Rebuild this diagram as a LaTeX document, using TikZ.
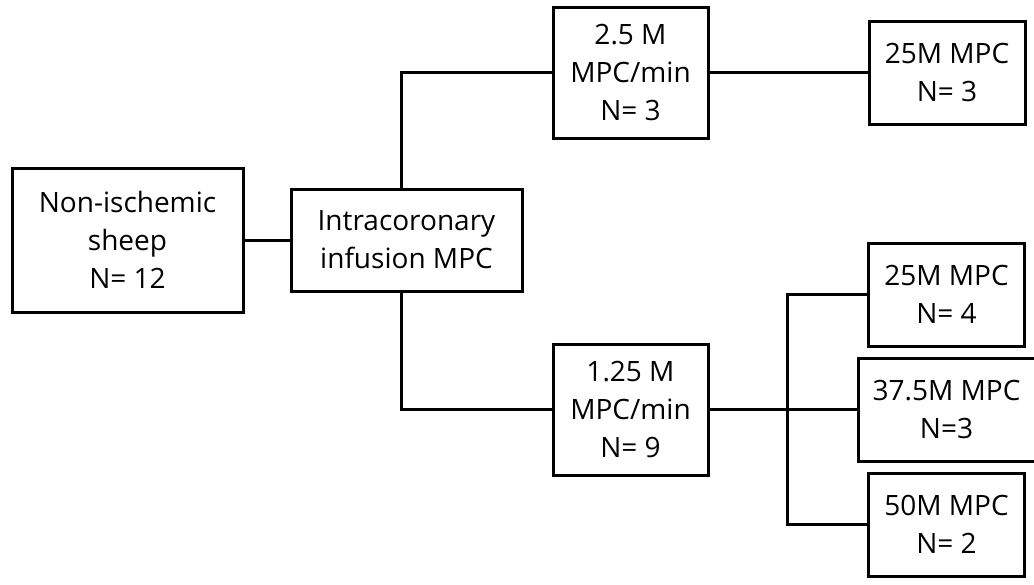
\documentclass[tikz,border=0pt]{standalone}
\usepackage{fontspec}
\setmainfont{Open Sans}
\usepackage{tikz}
\usetikzlibrary{positioning, calc}
\tikzstyle{block} = [rectangle, draw=black, line width=1.5pt, minimum width=115.5pt, align=center, inner sep=2pt]
\tikzstyle{dose} = [block, minimum width=77.5pt, minimum height=65.5pt]
\tikzstyle{group} = [block, minimum width=78pt, minimum height=51.5pt]
\tikzstyle{link} = [line width=1.5pt]

\begin{document}
\begin{tikzpicture}[x=0.5pt, y=-0.5pt, every node/.style={font=\fontsize{14}{19}\selectfont}]
  \useasboundingbox (0,0) rectangle (1034,584);

  % Source and infusion
  \node[block, minimum height=72pt] (sheep) at (127.5,240) {Non-ischemic\\sheep\\N= 12};
  \node[block, minimum height=51pt, right=22.5pt of sheep] (infusion) {Intracoronary\\infusion MPC};

  % Infusion rates
  \node[dose] (rate25) at (630.5,72.5) {2.5 M\\MPC/min\\N= 3};
  \node[dose, below=101.5pt of rate25] (rate125) {1.25 M\\MPC/min\\N= 9};

  % Doses
  \node[group, right=79pt of rate25] (dose25a) {25M MPC\\N= 3};
  \node[group, minimum width=88.5pt, right=73.5pt of rate125] (dose375) {37.5M MPC\\N=3};
  \node[group, above=4.5pt of dose375] (dose25b) {25M MPC\\N= 4};
  \node[group, below=4.5pt of dose375] (dose50) {50M MPC\\N= 2};

  % Links
  \draw[link] (sheep) -- (infusion);
  \draw[link] ($(infusion.north)+(-5.5,0)$) |- (rate25.west);
  \draw[link] ($(infusion.south)+(-5.5,0)$) |- (rate125.west);
  \draw[link] (rate25) -- (dose25a);
  \draw[link] (rate125.east) -- (rate125.east -| dose375.west);
  \coordinate (fork) at ($(rate125.east)!0.53!(dose375.west)$);
  \draw[link] (dose25b.west) -| (fork) |- (dose50.west);
\end{tikzpicture}
\end{document}
